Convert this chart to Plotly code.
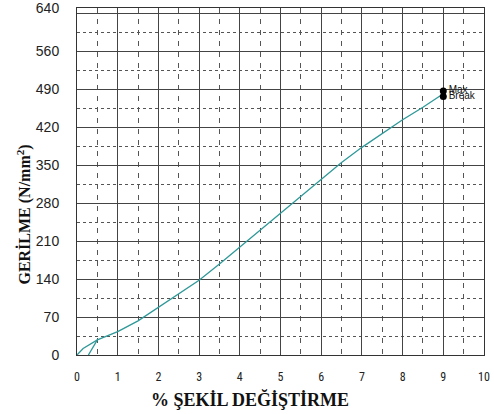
import plotly.graph_objects as go

# Data
strain = [0, 0.15, 0.5, 1.0, 1.5, 2.0, 2.5, 3.0, 3.5, 4.0, 4.5, 5.0, 5.5, 6.0, 6.5, 7.0, 7.5, 8.0, 8.5, 9.0]
stress = [0, 12, 28, 43, 63, 88, 112, 138, 168, 199, 230, 262, 293, 324, 355, 383, 409, 434, 457, 482]
toe_strain = [0.28, 0.5]
toe_stress = [0, 28]
point_labels = ["Max", "Break"]
point_strain = [9.0, 9.0]
point_stress = [487, 477]

y_ticks = [0, 70, 140, 210, 280, 350, 420, 490, 560, 630, 640]
y_ticktext = ["0", "70", "140", "210", "280", "350", "420", "490", "560", "", "640"]
y_minor = [35, 105, 175, 245, 315, 385, 455, 525, 595]
x_ticks = [0, 1, 2, 3, 4, 5, 6, 7, 8, 9, 10]
x_minor = [0.5, 1.5, 2.5, 3.5, 4.5, 5.5, 6.5, 7.5, 8.5, 9.5]

x_title = "<b>% ŞEKİL DEĞİŞTİRME</b>"
y_title = "<b>GERİLME (N/mm<sup>2</sup>)</b>"

line_color = "#2f9898"
title_font = dict(family="Liberation Serif, Times New Roman, serif", color="#111")

fig = go.Figure()
fig.add_trace(go.Scatter(x=strain, y=stress, mode="lines",
                         line=dict(color=line_color, width=1.3),
                         showlegend=False, hoverinfo="skip"))
fig.add_trace(go.Scatter(x=toe_strain, y=toe_stress, mode="lines",
                         line=dict(color=line_color, width=1.3),
                         showlegend=False, hoverinfo="skip"))
fig.add_trace(go.Scatter(x=point_strain, y=point_stress, mode="markers+text",
                         marker=dict(color="black", size=7, symbol="circle"),
                         text=point_labels, textposition="middle right",
                         textfont=dict(family="Liberation Sans, Arial, sans-serif",
                                       size=10, color="#111111"),
                         showlegend=False, hoverinfo="skip"))

grid_major = "#444444"
grid_minor = "#555555"

fig.update_layout(
    width=494, height=414,
    margin=dict(l=77, r=10, t=8, b=59),
    paper_bgcolor="white", plot_bgcolor="white",
    xaxis=dict(
        range=[0, 10], tickmode="array", tickvals=x_ticks, automargin=False,
        showgrid=True, gridcolor=grid_major, gridwidth=1,
        zeroline=False, showline=True, linecolor="#333", linewidth=1, mirror=True,
        ticks="", ticklabelstandoff=11, ticklabeloverflow="allow",
        tickfont=dict(family="Liberation Sans Narrow, Arial Narrow, Roboto Condensed, sans-serif", size=12, color="#222"),
        minor=dict(tickmode="array", tickvals=x_minor, showgrid=True,
                   gridcolor=grid_minor, gridwidth=1, griddash="5px,6px", ticks=""),
    ),
    yaxis=dict(
        range=[0, 640], tickmode="array", tickvals=y_ticks, ticktext=y_ticktext, automargin=False,
        showgrid=True, gridcolor=grid_major, gridwidth=1,
        zeroline=False, showline=True, linecolor="#333", linewidth=1, mirror=True,
        ticks="", ticklabelstandoff=14, ticklabeloverflow="allow",
        tickfont=dict(family="Liberation Sans, Arial, sans-serif", size=14, color="#222"),
        minor=dict(tickmode="array", tickvals=y_minor, showgrid=True,
                   gridcolor=grid_minor, gridwidth=1, griddash="3px,3px", ticks=""),
    ),
    annotations=[
        dict(text=x_title, xref="paper", yref="paper", x=0.425, y=0,
             xanchor="center", yanchor="middle", yshift=-44, showarrow=False,
             font=dict(size=18, **title_font)),
        dict(text=y_title, xref="paper", yref="paper", x=-0.13, y=0.405,
             xanchor="center", yanchor="middle", textangle=-90, showarrow=False,
             font=dict(size=16, **title_font)),
    ],
)

fig.write_html("out.html", config={"displayModeBar": False},
               post_script="document.body.style.margin='0';")
